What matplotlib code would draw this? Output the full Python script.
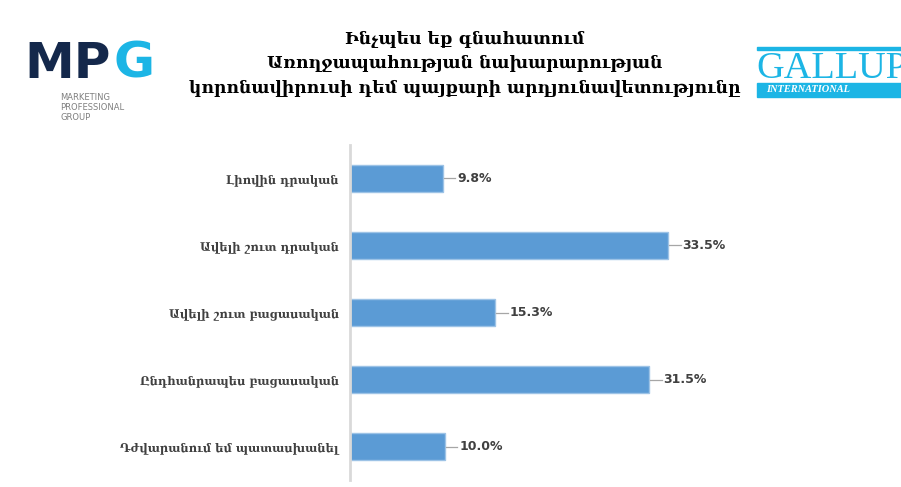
import matplotlib
matplotlib.use("Agg")
import matplotlib.pyplot as plt
from matplotlib.patches import Rectangle

# data
categories = [
    "Լիովին դրական",
    "Ավելի շուտ դրական",
    "Ավելի շուտ բացասական",
    "Ընդհանրապես բացասական",
    "Դժվարանում եմ պատասխանել",
]
values = [9.8, 33.5, 15.3, 31.5, 10.0]
title_lines = [
    "Ինչպես եք գնահատում",
    "Առողջապահության նախարարության",
    "կորոնավիրուսի դեմ պայքարի արդյունավետությունը",
]

W, H = 901, 487
fig = plt.figure(figsize=(W / 100, H / 100), dpi=100)
fig.patch.set_facecolor("white")

# axes placed in pixel coords: left 350, right 730, top 145, bottom 480
ax = fig.add_axes([350 / W, 1 - 480 / H, 380 / W, 335 / H])
ypos = list(range(len(categories)))
ax.barh(ypos, values, height=0.4, color="#5B9BD5", edgecolor="#9DC3E6", linewidth=1)
ax.set_xlim(0, 40)
ax.set_ylim(len(categories) - 0.5, -0.5)

for i, v in enumerate(values):
    ax.plot([v + 0.1, v + 1.3], [i, i], color="#A6A6A6", lw=0.9)
    ax.text(v + 1.5, i, f"{v:.1f}%", va="center", ha="left",
            fontsize=9, fontweight="bold", color="#404040")

ax.set_yticks(ypos)
ax.set_yticklabels(categories, fontsize=8.3, fontweight="bold", color="#404040",
                   family=["DejaVu Serif", "DejaVu Sans"])
ax.tick_params(axis="y", length=0, pad=8)
ax.set_xticks([])
for s in ["top", "right", "bottom"]:
    ax.spines[s].set_visible(False)
ax.spines["left"].set_color("#D9D9D9")
ax.spines["left"].set_linewidth(2)

# title
for line, yy in zip(title_lines, [39, 63, 88]):
    fig.text(465 / W, 1 - yy / H, line, ha="center", va="center", fontsize=12.3,
             fontweight="bold", color="black", family=["DejaVu Serif", "DejaVu Sans"])

# MPG logo (approximation)
fig.text(24 / W, 1 - 64 / H, "MP", fontsize=36, fontweight="bold", color="#14284B",
         ha="left", va="center", family="DejaVu Sans")
fig.text(114 / W, 1 - 64 / H, "G", fontsize=36, fontweight="bold", color="#1CB5E5",
         ha="left", va="center", family="DejaVu Sans")
for j, t in enumerate(["MARKETING", "PROFESSIONAL", "GROUP"]):
    fig.text(60 / W, 1 - (98 + 10 * j) / H, t, fontsize=6, color="#7F7F7F",
             ha="left", va="center")

# GALLUP INTERNATIONAL logo (approximation)
fig.add_artist(Rectangle((757 / W, 1 - 50 / H), 150 / W, 3 / H, color="#1CB5E5",
                         transform=fig.transFigure))
fig.text(756 / W, 1 - 78 / H, "GALLUP", fontsize=27.5, color="#1CB5E5",
         family="Liberation Serif", ha="left", va="baseline")
fig.add_artist(Rectangle((757 / W, 1 - 97 / H), 150 / W, 14 / H, color="#1CB5E5",
                         transform=fig.transFigure))
fig.text(766 / W, 1 - 90 / H, "INTERNATIONAL", fontsize=7.5, color="white",
         style="italic", fontweight="bold", family="Liberation Serif", ha="left", va="center")

fig.savefig("out.png", dpi=100)
